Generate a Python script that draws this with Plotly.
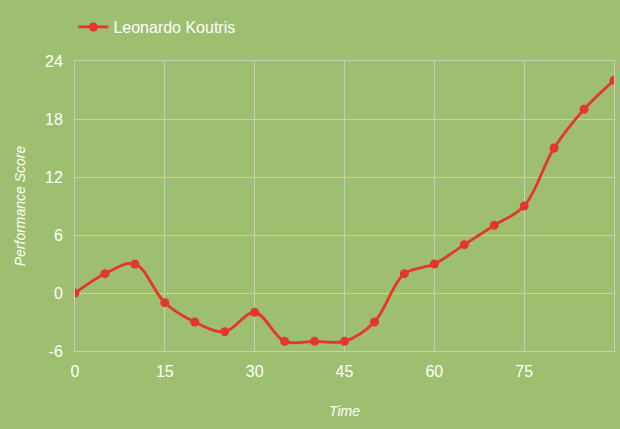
import plotly.graph_objects as go

# data
time = [0, 5, 10, 15, 20, 25, 30, 35, 40, 45, 50, 55, 60, 65, 70, 75, 80, 85, 90]
score = [0, 2, 3, -1, -3, -4, -2, -5, -5, -5, -3, 2, 3, 5, 7, 9, 15, 19, 22]
x_ticks = [0, 15, 30, 45, 60, 75]
y_ticks = [-6, 0, 6, 12, 18, 24]
y_labels = ["-6", "0", "6", "12", "18", "24"]

bg = "#9dbf6f"
grid = "#c9cdbf"
red = "#e5352f"

fig = go.Figure()
fig.add_trace(go.Scatter(
    x=time, y=score, mode="lines+markers", name="Leonardo Koutris",
    line=dict(color=red, width=2.8, shape="spline", smoothing=1.0),
    marker=dict(color=red, size=9),
))

fig.update_layout(
    width=620, height=429,
    paper_bgcolor=bg, plot_bgcolor=bg,
    margin=dict(l=75, r=6, t=61, b=78),
    font=dict(family="Arial, Liberation Sans, sans-serif", color="white", size=16),
    showlegend=True,
    legend=dict(x=-0.003, y=1.117, xanchor="left", yanchor="middle",
                orientation="h", font=dict(size=16, color="white"),
                bgcolor="rgba(0,0,0,0)"),
    xaxis=dict(
        range=[0, 90], tickvals=x_ticks, showgrid=True, gridcolor=grid, gridwidth=1,
        zeroline=False, showline=True, linecolor=grid, mirror=True,
        ticks="", ticklabelstandoff=6,
        title=dict(text="<i>Time</i>", font=dict(size=14, color="white"), standoff=26),
    ),
    yaxis=dict(
        range=[-6, 24], tickvals=y_ticks, ticktext=y_labels, showgrid=True,
        gridcolor=grid, gridwidth=1,
        zeroline=False, showline=True, linecolor=grid, mirror=True,
        ticks="", ticklabelstandoff=8,
        title=dict(text="<i>Performance Score</i>", font=dict(size=14, color="white"), standoff=16),
    ),
)

# drop the page's default body margin so the chart fills the window
fig.write_html("out.html", config={"displayModeBar": False},
               post_script="document.body.style.margin='0';")
